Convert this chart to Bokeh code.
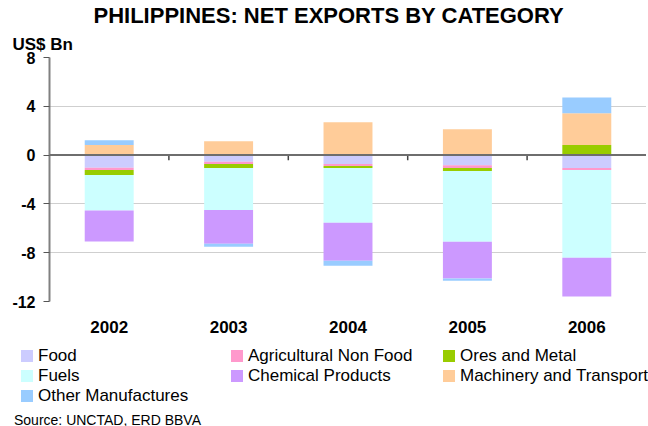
from bokeh.plotting import figure
from bokeh.models import ColumnDataSource, Span, Title, FixedTicker, Div
from bokeh.layouts import column
from bokeh.transform import dodge
from bokeh.embed import file_html
from bokeh.resources import INLINE

years = ["2002", "2003", "2004", "2005", "2006"]
series_names = ["Food", "Agricultural Non Food", "Ores and Metal", "Fuels",
                "Chemical Products", "Machinery and Transport", "Other Manufactures"]
food = [-1.04, -0.55, -0.73, -0.84, -1.06]
agri_non_food = [-0.18, -0.18, -0.17, -0.22, -0.16]
ores_metal = [-0.41, -0.33, -0.16, -0.25, 0.82]
fuels = [-2.92, -3.43, -4.49, -5.79, -7.19]
chemical = [-2.53, -2.78, -3.10, -3.02, -3.18]
machinery = [0.82, 1.14, 2.69, 2.12, 2.61]
other_manuf = [0.40, -0.24, -0.41, -0.17, 1.30]
colors = ["#CCCCFF", "#FF99CC", "#99CC00", "#CCFFFF", "#CC99FF", "#FFCC99", "#99CCFF"]
y_ticks = [-12, -8, -4, 0, 4, 8]

all_series = [food, agri_non_food, ores_metal, fuels, chemical, machinery, other_manuf]

FONT = "Liberation Sans"

p = figure(x_range=years, y_range=(-12, 8), frame_width=597, frame_height=244,
           output_backend="svg", toolbar_location=None, title=None,
           min_border_left=49, min_border_right=0, min_border_top=0, min_border_bottom=0)
p.outline_line_color = None
p.background_fill_color = "white"
p.border_fill_color = "white"

# stacked bars: positives stacked upward from 0, negatives downward from 0
pos = [0.0] * len(years)
neg = [0.0] * len(years)
for name, vals, col in zip(series_names, all_series, colors):
    bottoms, tops = [], []
    for i, v in enumerate(vals):
        if v >= 0:
            bottoms.append(pos[i]); tops.append(pos[i] + v); pos[i] += v
        else:
            tops.append(neg[i]); bottoms.append(neg[i] + v); neg[i] += v
    src = ColumnDataSource(dict(x=years, bottom=bottoms, top=tops))
    p.vbar(x="x", bottom="bottom", top="top", width=0.41, source=src,
           fill_color=col, line_color=None)

# zero line and its category-boundary ticks
p.add_layout(Span(location=0, dimension="width", line_color="#6E6E6E", line_width=2))
tick_src = ColumnDataSource(dict(x=years[:-1], y0=[0] * 4, y1=[-0.42] * 4))
p.segment(x0=dodge("x", 0.5, range=p.x_range), x1=dodge("x", 0.5, range=p.x_range),
          y0="y0", y1="y1", source=tick_src, line_color="#444444", line_width=1.5)

# y axis
p.yaxis.ticker = FixedTicker(ticks=y_ticks)
p.yaxis.major_label_overrides = {t: str(t) for t in y_ticks}
p.yaxis.major_label_text_font = FONT
p.yaxis.major_label_text_font_style = "bold"
p.yaxis.major_label_text_font_size = "16px"
p.yaxis.major_label_text_color = "black"
p.yaxis.axis_line_color = "#808080"
p.yaxis.axis_line_width = 2
p.yaxis.major_tick_line_color = "#555555"
p.yaxis.major_tick_out = 6
p.yaxis.major_tick_in = 0
p.yaxis.minor_tick_line_color = None
p.yaxis.major_label_standoff = 8

# x axis
p.xaxis.axis_line_color = None
p.xaxis.major_tick_line_color = None
p.xaxis.minor_tick_line_color = None
p.xaxis.major_tick_out = 0
p.xaxis.major_tick_in = 0
p.xaxis.major_label_text_font = FONT
p.xaxis.major_label_text_font_style = "bold"
p.xaxis.major_label_text_font_size = "17px"
p.xaxis.major_label_text_color = "black"
p.xaxis.major_label_standoff = 19

p.xgrid.grid_line_color = None
p.ygrid.grid_line_color = "#CFCFCF"
p.ygrid.ticker = FixedTicker(ticks=y_ticks)

# titles (inside out)
p.add_layout(Title(text="US$ Bn", align="left", offset=-37, text_font=FONT,
                   text_color="black", text_font_style="bold", text_font_size="17px",
                   standoff=8), "above")
p.add_layout(Title(text="PHILIPPINES: NET EXPORTS BY CATEGORY", align="left", offset=44,
                   text_font=FONT, text_color="black", text_font_style="bold",
                   text_font_size="22px", standoff=1), "above")

# legend (3 columns, row-major) and source note
col_left = [21, 231, 443]
parts = ['<div style="position:relative;width:646px;height:92px;'
         'font-family:\'Liberation Sans\',Arial,sans-serif;color:#000;">']
for i, (name, col) in enumerate(zip(series_names, colors)):
    row, c = divmod(i, 3)
    cy = 21 + row * 20
    x0 = col_left[c]
    parts.append(f'<div style="position:absolute;left:{x0}px;top:{cy - 6}px;width:12px;'
                 f'height:12px;background:{col};"></div>')
    parts.append(f'<div style="position:absolute;left:{x0 + 17}px;top:{cy - 10}px;'
                 f'font-size:17px;line-height:20px;white-space:nowrap;">{name}</div>')
parts.append('<div style="position:absolute;left:14px;top:78px;font-size:14px;'
             'line-height:14px;white-space:nowrap;">Source: UNCTAD, ERD BBVA</div>')
parts.append('</div>')
legend_div = Div(text="".join(parts), width=646, height=92, margin=0)

open("out.html", "w").write(file_html(column(p, legend_div, spacing=0), INLINE))
